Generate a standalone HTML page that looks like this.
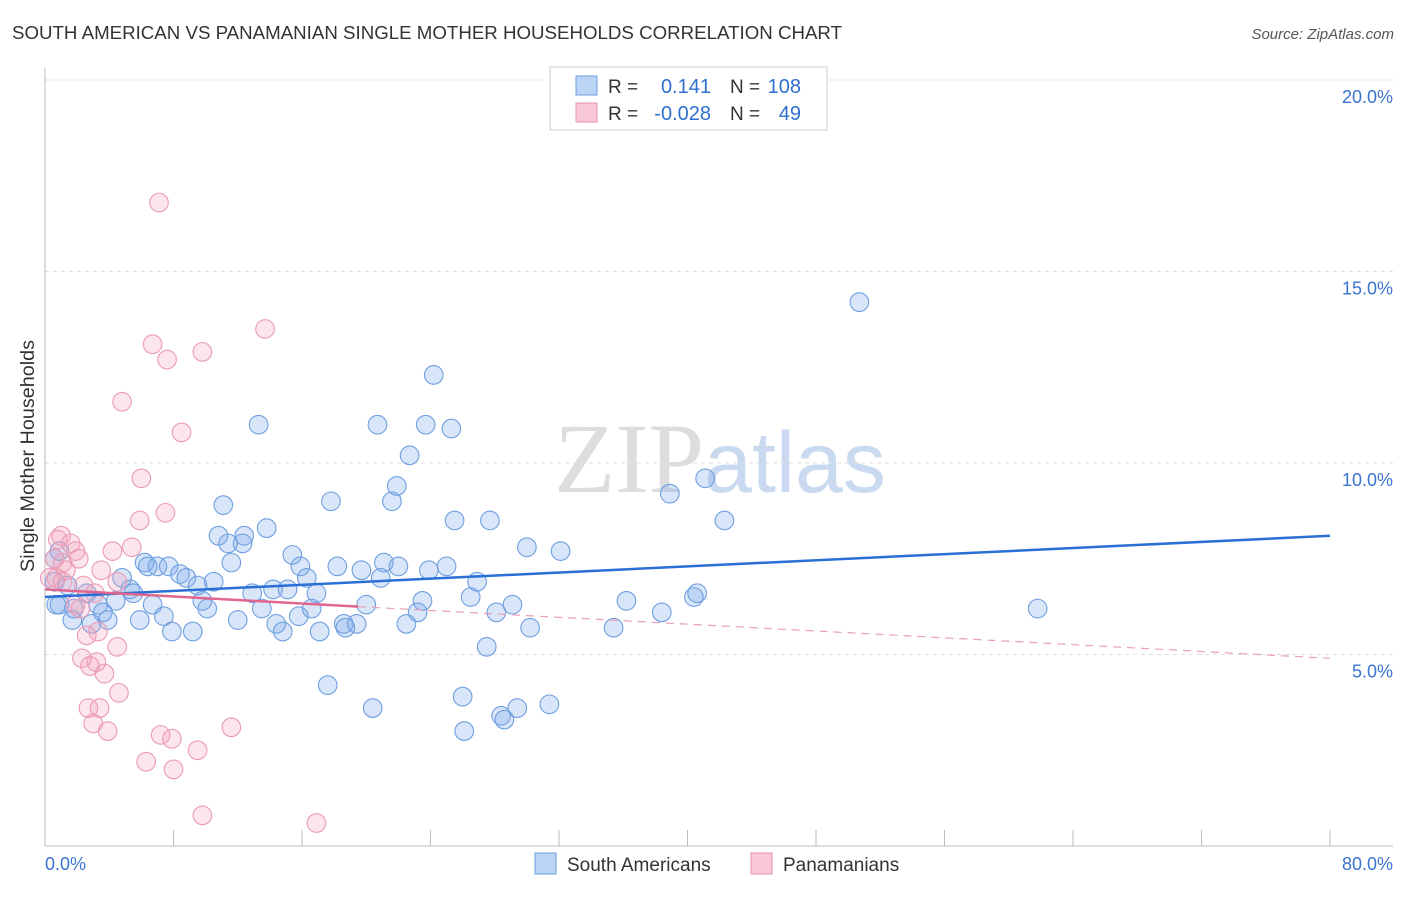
<!DOCTYPE html>
<html><head><meta charset="utf-8"><style>
body{margin:0;background:#fff;font-family:"Liberation Sans",sans-serif}
</style></head><body>
<svg id="chart" width="1406" height="892" xmlns="http://www.w3.org/2000/svg" font-family="Liberation Sans, sans-serif">
<text x="12" y="39" font-size="18" fill="#333" textLength="830" lengthAdjust="spacingAndGlyphs">SOUTH AMERICAN VS PANAMANIAN SINGLE MOTHER HOUSEHOLDS CORRELATION CHART</text>
<text x="1394" y="39" font-size="15" font-style="italic" fill="#555" text-anchor="end">Source: ZipAtlas.com</text>
<text x="720" y="492" font-size="100" text-anchor="middle" fill="#ddd" font-family="Liberation Serif, serif">ZIP<tspan fill="#c9daf0" font-family="Liberation Sans, sans-serif" font-size="86">atlas</tspan></text>
<text transform="translate(34,456) rotate(-90)" font-size="19" fill="#333" text-anchor="middle" textLength="232" lengthAdjust="spacingAndGlyphs">Single Mother Households</text>
<g id="grid"></g><g id="axes"></g><g id="pts"></g><g id="trend"></g>
<g>
<rect x="550" y="67" width="277" height="63" fill="#fff" stroke="#ccc"/>
<rect x="576" y="76" width="21" height="19" fill="#bcd4f5" stroke="#6a9ee0"/>
<rect x="576" y="103" width="21" height="19" fill="#f9c8d7" stroke="#e793ac"/>
<text x="608" y="93" font-size="19" fill="#333">R =</text>
<text x="711" y="93" font-size="20" fill="#2f6fd0" text-anchor="end">0.141</text>
<text x="730" y="93" font-size="19" fill="#333">N =</text>
<text x="801" y="93" font-size="20" fill="#2f6fd0" text-anchor="end">108</text>
<text x="608" y="120" font-size="19" fill="#333">R =</text>
<text x="711" y="120" font-size="20" fill="#2f6fd0" text-anchor="end">-0.028</text>
<text x="730" y="120" font-size="19" fill="#333">N =</text>
<text x="801" y="120" font-size="20" fill="#2f6fd0" text-anchor="end">49</text>
</g>
<g>
<rect x="535" y="853" width="21" height="21" fill="#bcd4f5" stroke="#6a9ee0"/>
<text x="567" y="871" font-size="19" fill="#333">South Americans</text>
<rect x="751" y="853" width="21" height="21" fill="#f9c8d7" stroke="#e793ac"/>
<text x="783" y="871" font-size="19" fill="#333">Panamanians</text>
</g>
</svg>
<script>
const blueX=[50.7,24.2,13.3,20.7,23.7,25.3,22.7,41.1,38.9,17.8,21.9,21.6,11.1,25.5,27.7,42.3,13.8,10.8,12.4,11.4,12.3,30.0,32.1,15.4,6.2,11.6,7.0,7.7,6.4,15.9,18.2,21.1,22.0,25.0,19.7,23.9,8.4,8.8,4.8,16.3,20.9,10.5,26.9,9.5,5.3,14.2,15.1,12.9,16.9,5.5,2.6,26.5,40.4,40.6,4.4,23.5,29.1,9.8,36.2,6.7,3.3,10.1,13.5,20.0,16.6,61.8,0.9,1.8,28.1,38.4,3.6,23.2,15.8,5.9,7.4,12.0,3.9,1.7,2.9,14.4,18.6,19.4,22.5,35.4,30.2,7.9,9.2,14.8,17.1,18.7,27.5,17.6,26.0,20.4,31.4,29.4,28.4,28.6,26.1,0.6,0.6,0.7,1.4,0.9];
const blueY=[14.2,12.3,11.0,11.0,11.0,10.9,10.2,9.6,9.2,9.0,9.4,9.0,8.9,8.5,8.5,8.5,8.3,8.1,8.1,7.9,7.9,7.8,7.7,7.6,7.4,7.4,7.3,7.3,7.3,7.3,7.3,7.4,7.3,7.3,7.2,7.2,7.1,7.0,7.0,7.0,7.0,6.9,6.9,6.8,6.7,6.7,6.7,6.6,6.6,6.6,6.6,6.5,6.5,6.6,6.4,6.4,6.3,6.4,6.4,6.3,6.3,6.2,6.2,6.3,6.2,6.2,6.3,6.2,6.1,6.1,6.1,6.1,6.0,5.9,6.0,5.9,5.9,5.9,5.8,5.8,5.8,5.8,5.8,5.7,5.7,5.6,5.6,5.6,5.6,5.7,5.2,4.2,3.9,3.6,3.7,3.6,3.4,3.3,3.0,7.5,6.9,6.3,6.8,7.7];
const pinkX=[7.1,13.7,6.7,7.6,9.8,4.8,8.5,6.0,7.5,5.9,1.0,0.8,1.6,1.9,4.2,5.4,2.1,0.6,1.1,1.3,3.5,4.5,0.7,0.3,1.1,2.4,3.1,2.2,1.9,3.3,2.6,4.5,2.3,3.2,2.8,3.7,4.6,2.7,3.4,3.0,3.9,11.6,7.2,7.9,9.5,6.3,8.0,9.8,16.9];
const pinkY=[16.8,13.5,13.1,12.7,12.9,11.6,10.8,9.6,8.7,8.5,8.1,8.0,7.9,7.7,7.7,7.8,7.5,7.5,7.4,7.2,7.2,6.9,7.0,7.0,6.9,6.8,6.6,6.2,6.3,5.6,5.5,5.2,4.9,4.8,4.7,4.5,4.0,3.6,3.6,3.2,3.0,3.1,2.9,2.8,2.5,2.2,2.0,0.8,0.6];
const yTicks=[5,10,15,20];
const yTickLabels=["5.0%","10.0%","15.0%","20.0%"];
const xTicks=[0,8,16,24,32,40,48,56,64,72,80];
const blueTrend=[[0,6.5],[80,8.1]];
const pinkTrendSolid=[[0,6.7],[19.5,6.25]];
const pinkTrendDash=[[19.5,6.25],[80,4.9]];
const NS="http://www.w3.org/2000/svg";
const xs=v=>45+v/80*1285, ys=v=>846-v*38.3;
function mk(tag,attrs,parent){const e=document.createElementNS(NS,tag);for(const k in attrs)e.setAttribute(k,attrs[k]);document.getElementById(parent).appendChild(e);return e;}
yTicks.forEach((t,i)=>{
 const l=mk('line',{x1:45,x2:1393,y1:ys(t),y2:ys(t),stroke:'#ddd','stroke-dasharray':'4,4'},'grid');
 
 
 const tx=mk('text',{x:1393,y:ys(t)+23,'font-size':18,fill:'#3b74d0','text-anchor':'end'},'grid');
 tx.textContent=yTickLabels[i];
 
 
});
const ax=mk('line',{x1:45,x2:45,y1:68,y2:846,stroke:'#bbb'},'axes');


const bx=mk('line',{x1:45,x2:1393,y1:846,y2:846,stroke:'#bbb'},'axes');


xTicks.forEach(t=>{const l=mk('line',{x1:xs(t),x2:xs(t),y1:830,y2:846,stroke:'#bbb'},'axes');
 
 });
const x0=mk('text',{x:45,y:870,'font-size':18,fill:'#3b74d0'},'axes');x0.textContent='0.0%';


const x1=mk('text',{x:1393,y:870,'font-size':18,fill:'#3b74d0','text-anchor':'end'},'axes');x1.textContent='80.0%';


blueX.forEach((v,i)=>{const c=mk('circle',{cx:xs(v),cy:ys(blueY[i]),r:9.3,fill:'rgba(120,165,235,0.28)',stroke:'#6f9fe0','stroke-width':1.1},'pts');
 
 });
pinkX.forEach((v,i)=>{const c=mk('circle',{cx:xs(v),cy:ys(pinkY[i]),r:9.3,fill:'rgba(245,160,188,0.28)',stroke:'#eb9bb5','stroke-width':1.1},'pts');
 
 });
function tl(p,st,w,dash,name){const l=mk('line',{x1:xs(p[0][0]),y1:ys(p[0][1]),x2:xs(p[1][0]),y2:ys(p[1][1]),stroke:st,'stroke-width':w},'trend');
 if(dash)l.setAttribute('stroke-dasharray',dash);
 
 }
tl(blueTrend,'#2a6fd6',2.5,null,'south-american-trendline');
tl(pinkTrendSolid,'#e06690',2.5,null,'panamanian-trendline');
tl(pinkTrendDash,'#e8a0b8',1.2,'8,6','panamanian-trendline-extended');
</script>
</body></html>
